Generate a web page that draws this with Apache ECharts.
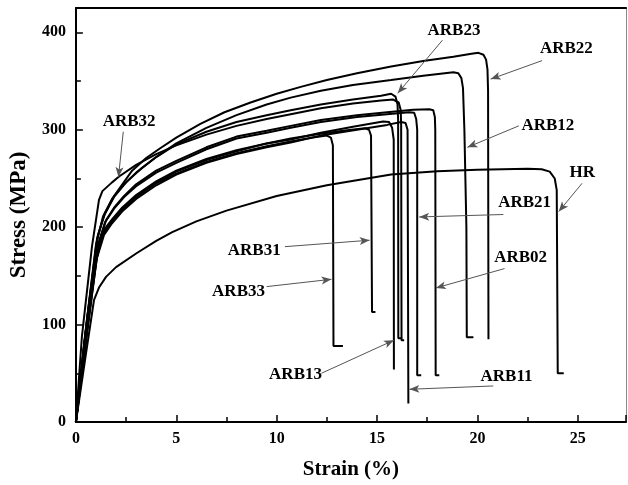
<!DOCTYPE html>
<html>
<head>
<meta charset="utf-8">
<script src="https://cdn.jsdelivr.net/npm/echarts@6.0.0/dist/echarts.min.js"></script>
<style>
  html, body { margin: 0; padding: 0; background: #fff; }
  #chart { width: 628px; height: 485px; }
</style>
</head>
<body>
<div id="chart"></div>
<script>
// stress-strain curves, [strain %, stress MPa]
var HR = [[0,0],[0.5,70],[0.9,125],[1.15,138],[1.5,149],[2,159],[3,173],[4,186],[4.8,195],[6,206],[7.5,217],[10,232],[12.5,243],[15.7,254],[18,257.5],[20,259],[22.5,260],[23.2,259.5],[23.6,257],[23.85,250],[23.95,238],[24.0,50],[24.3,50]];
var ARB33 = [[0,0],[0.5,85],[1.0,165],[1.3,190],[1.7,204],[2.2,216],[3,231],[4,245],[5,255],[6.5,267],[8,276],[9.5,283],[10.7,288],[11.8,292],[12.5,294],[12.7,292],[12.8,284],[12.83,78],[13.3,78]];
var ARB31 = [[0,0],[0.6,98],[1.1,178],[1.4,195],[1.8,207],[2.3,219],[3,232],[4,246],[5,257],[6.5,269],[8,278],[9.5,286],[10.7,291],[12.2,296],[13.5,299.5],[14.4,301.5],[14.6,300],[14.7,294],[14.75,113],[14.92,113]];
var ARB13 = [[0,0],[0.45,88],[1.0,172],[1.35,196],[1.8,208],[2.3,220],[3,233],[4,247],[5,258],[6.5,270],[8,279],[9.5,286],[10.7,290],[12.2,297],[13.8,303],[15.3,308.5],[15.6,308],[15.75,302],[15.83,290],[15.84,54]];
var ARB11 = [[0,0],[0.4,78],[1.0,165],[1.4,192],[1.8,204],[2.3,216],[3,229],[4,243],[5,254],[6.5,266],[8,275],[9.5,282],[10.7,287],[12.2,294],[14,300],[15.5,305],[16.2,308],[16.42,307],[16.52,300],[16.56,19]];
var ARB21 = [[0,0],[0.5,92],[1.1,182],[1.45,205],[1.9,219],[2.4,231],[3,242],[4,256],[5,266],[6.5,280],[8,291],[9.5,297],[10.7,302],[12.2,308],[14,313],[15.5,316],[16.6,318],[16.85,317.5],[16.95,311],[17.0,300],[17.0,48],[17.2,48]];
var ARB02 = [[0,0],[0.6,102],[1.15,184],[1.5,207],[1.9,220],[2.4,232],[3,244],[4,258],[5,268],[6.5,282],[8,293],[9.5,299],[10.7,304],[12.2,310],[14,315],[15.5,318],[16.8,320.5],[17.6,321],[17.8,320],[17.88,313],[17.9,300],[17.92,48],[18.1,48]];
var ARB23 = [[0,0],[0.5,96],[1.0,182],[1.35,211],[1.8,229],[2.3,242],[3,256],[4,272],[5,285],[6.5,298],[8,308],[9.5,315],[10.7,320],[12.2,326],[13.8,331],[15.2,335],[15.7,337],[15.92,334],[16.02,326],[16.05,310],[16.06,86],[16.25,86]];
var ARB32 = [[0,0],[0.3,88],[0.8,180],[1.15,228],[1.32,237],[1.8,246],[2.15,252],[3,264],[4,275],[5,284],[6.5,295],[8,304],[9.5,311],[10.7,316],[12.2,322],[13.8,327],[15.2,330],[15.8,331],[16.08,328],[16.18,320],[16.2,305],[16.22,84],[16.35,84]];
var ARB12 = [[0,0],[0.6,112],[1.1,192],[1.45,214],[1.9,231],[2.5,246],[3.3,261],[4,272],[5,286],[6.5,302],[8,315],[9.5,326],[10.7,333],[12.2,340],[13.8,346],[15.7,351],[17.3,355.5],[18.8,359],[19.05,358],[19.2,353],[19.28,343],[19.35,300],[19.45,200],[19.47,87],[19.8,87]];
var ARB22 = [[0,0],[0.55,105],[1.05,188],[1.4,212],[1.9,232],[2.8,258],[3.5,271],[4.2,281],[5,292],[6.2,306],[7.4,318],[8.7,328],[10,337],[11.2,344],[12.5,351],[14,358],[15.7,365],[17.3,370.5],[18.8,375],[19.7,378],[20.05,379],[20.3,377],[20.43,372],[20.5,362],[20.53,340],[20.55,85]];

// annotations: label text, label centre, arrow start, arrow tip (data units)
var labelNames = ['ARB23', 'ARB22', 'ARB12', 'HR', 'ARB21', 'ARB02', 'ARB11', 'ARB13', 'ARB31', 'ARB33', 'ARB32'];
var labelPos = [[18.83,402],[24.43,383],[23.51,304],[25.22,256],[22.35,225],[22.15,169],[21.45,47],[10.94,49],[8.88,176],[8.1,134],[2.65,308]];
var arrowFrom = [[18.26,392],[23.22,371],[22.06,304],[25.21,245],[21.29,213],[21.35,157.5],[20.79,37],[12.23,50],[10.41,180],[9.5,139],[2.36,298]];
var arrowTo = [[16.03,337.5],[20.66,352],[19.5,282],[24.05,216],[17.1,210.5],[17.93,137.6],[16.61,33.6],[15.84,84],[14.63,186.6],[12.73,146.5],[2.12,251.5]];

var curves = [
    ['HR', HR], ['ARB33', ARB33], ['ARB31', ARB31], ['ARB13', ARB13],
    ['ARB11', ARB11], ['ARB21', ARB21], ['ARB02', ARB02], ['ARB23', ARB23],
    ['ARB32', ARB32], ['ARB12', ARB12], ['ARB22', ARB22]
];

var font = "'Liberation Serif', 'Times New Roman', serif";

var chart = echarts.init(document.getElementById('chart'));

var series = curves.map(function (c) {
    return {
        name: c[0],
        type: 'line',
        data: c[1],
        symbol: 'none',
        silent: true,
        lineStyle: { color: '#000', width: 2 },
        z: 3
    };
});

// arrows and text labels
series.push({
    type: 'line',
    data: [],
    silent: true,
    markLine: {
        silent: true,
        animation: false,
        symbol: ['none', 'arrow'],
        symbolSize: [6, 10],
        label: { show: false },
        lineStyle: { color: '#555', width: 1, type: 'solid' },
        itemStyle: { color: '#000' },
        emphasis: { disabled: true },
        data: arrowFrom.map(function (p, i) {
            return [{ coord: p }, { coord: arrowTo[i], itemStyle: { color: '#000' } }];
        })
    },
    markPoint: {
        silent: true,
        animation: false,
        symbol: 'circle',
        symbolSize: 0,
        itemStyle: { color: 'transparent' },
        label: {
            show: true,
            position: 'inside',
            formatter: '{b}',
            color: '#000',
            fontSize: 17,
            fontWeight: 'bold',
            fontFamily: font
        },
        data: labelNames.map(function (n, i) {
            return { name: n, coord: labelPos[i] };
        })
    }
});

var tickFont = { color: '#000', fontSize: 16, fontWeight: 'bold', fontFamily: font };

var option = {
    animation: false,
    backgroundColor: '#fff',
    grid: { left: 73, right: 2, top: 8, bottom: 63 },
    xAxis: [{
        type: 'value',
        min: 0,
        max: 27.4,
        interval: 5,
        position: 'bottom',
        name: 'Strain (%)',
        nameLocation: 'middle',
        nameGap: 37,
        nameTextStyle: { color: '#000', fontSize: 21, fontWeight: 'bold', fontFamily: font },
        axisLine: { show: true, onZero: false, lineStyle: { color: '#000', width: 2 } },
        axisTick: { inside: true, length: 7, lineStyle: { color: '#000', width: 1.5 } },
        minorTick: { show: true, splitNumber: 2, length: 5, lineStyle: { color: '#000', width: 1.5 } },
        splitLine: { show: false },
        axisLabel: Object.assign({ margin: 9, showMaxLabel: false }, tickFont)
    }, {
        type: 'value',
        min: 0,
        max: 27.4,
        position: 'top',
        axisLine: { show: true, onZero: false, lineStyle: { color: '#000', width: 2 } },
        axisTick: { show: false },
        axisLabel: { show: false },
        splitLine: { show: false }
    }],
    yAxis: [{
        type: 'value',
        min: 0,
        max: 425,
        interval: 100,
        position: 'left',
        name: 'Stress (MPa)',
        nameLocation: 'middle',
        nameGap: 40,
        nameRotate: 90,
        nameTextStyle: { color: '#000', fontSize: 23, fontWeight: 'bold', fontFamily: font },
        axisLine: { show: true, onZero: false, lineStyle: { color: '#000', width: 2 } },
        axisTick: { show: true, inside: true, length: 7, lineStyle: { color: '#000', width: 1.5 } },
        minorTick: { show: true, splitNumber: 2, length: 5, lineStyle: { color: '#000', width: 1.5 } },
        splitLine: { show: false },
        axisLabel: Object.assign({ margin: 10, showMaxLabel: false }, tickFont)
    }, {
        type: 'value',
        min: 0,
        max: 425,
        position: 'right',
        axisLine: { show: true, onZero: false, lineStyle: { color: '#888', width: 1 } },
        axisTick: { show: false },
        axisLabel: { show: false },
        splitLine: { show: false }
    }],
    series: series
};

chart.setOption(option);
</script>
</body>
</html>
